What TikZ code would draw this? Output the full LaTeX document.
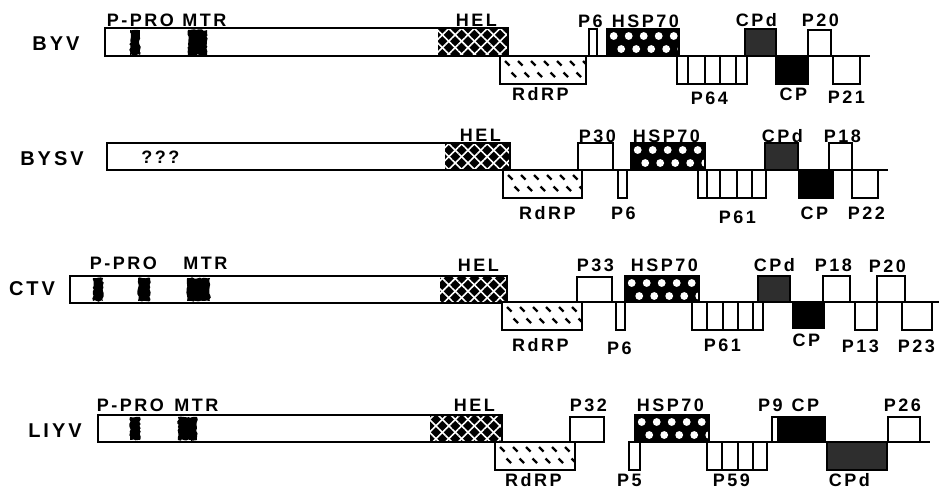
\documentclass[tikz,border=0pt]{standalone}
\usepackage{fontspec}
\setmainfont{Liberation Sans}
\newfontfamily\labfont{Liberation Sans}[LetterSpace=14]
\newfontfamily\rowfont{Liberation Sans}[LetterSpace=15]
\usetikzlibrary{patterns,patterns.meta,decorations.pathmorphing}

\tikzset{
 boxline/.style={draw=black, line width=1.3pt},
 divline/.style={draw=black, line width=1pt},
 gline/.style={draw=black, line width=1.3pt},
 plain/.style={fill=white},
 helfill/.style={preaction={fill=black}, pattern={Lines[angle=45,distance=6.8pt,line width=1.2pt]}, pattern color=white,
   postaction={pattern={Lines[angle=-45,distance=6.8pt,line width=1.2pt]}, pattern color=white}},
 dashmark/.style={draw=black, line width=1.7pt},
 dotmark/.style={fill=white},
 cpdfill/.style={fill=black!82},
 cpfill/.style={fill=black},
 spot/.style={fill=black, decorate, decoration={random steps, segment length=1.5pt, amplitude=0.6pt}},
 lab/.style={font=\labfont\bfseries\fontsize{13.5}{15}\selectfont, inner sep=0pt, text height=9.7pt, text depth=0pt, xshift=-1.2pt},
 rowlab/.style={font=\rowfont\bfseries\fontsize{15}{17}\selectfont, inner sep=0pt, text height=10.7pt, text depth=0pt, xshift=-1.5pt},
}
\newcommand\gbox[5]{\path[#5] (#1,#2) rectangle (#3,#4); \draw[boxline] (#1,#2) rectangle (#3,#4);}
\newcommand\hspbox[4]{%
 \fill[black] (#1,#2) rectangle (#3,#4);
 \begin{scope}
 \clip (#1,#2) rectangle (#3,#4);
 \foreach \i in {0,...,5} {
   \fill[dotmark] ({#1+6.7+15*\i},{#2+7}) circle [radius=3.9];
   \fill[dotmark] ({#1+14.2+15*\i},{#2+20}) circle [radius=3.9];
 }
 \end{scope}
 \draw[boxline] (#1,#2) rectangle (#3,#4);}
\newcommand\rdrpbox[4]{%
 \fill[white] (#1,#2) rectangle (#3,#4);
 \begin{scope}
 \clip (#1,#2) rectangle (#3,#4);
 \foreach \i in {0,...,6} {
   \draw[dashmark] ({#1+5+13*\i},{#2+5}) -- ++(4.5,4.5);
   \draw[dashmark] ({#1+11.5+13*\i},{#2+16.5}) -- ++(4.5,4.5);
 }
 \end{scope}
 \draw[boxline] (#1,#2) rectangle (#3,#4);}

\begin{document}
\begin{tikzpicture}[x=0.75pt,y=-0.75pt]
\useasboundingbox[fill=white] (0,0) rectangle (939,490);

% ---------------- BYV ----------------
\draw[gline] (508,56) -- (870,56);
\path[plain] (105,28) rectangle (508,56);
\path[spot] (130,30) rectangle (140,55);
\path[spot] (188,30) rectangle (207,55);
\path[helfill] (438,28) rectangle (508,56);
\draw[boxline] (105,28) rectangle (508,56);
\rdrpbox{500}{56}{586}{84}
\gbox{589}{29}{597}{56}{plain}
\hspbox{607}{29}{679}{56}
\gbox{677}{56}{747}{84}{plain}
\foreach \d in {688,705,720,736} \draw[divline] (\d,56) -- (\d,84);
\gbox{745}{29}{776}{56}{cpdfill}
\gbox{776}{56}{808}{84}{cpfill}
\gbox{808}{30}{831}{56}{plain}
\gbox{833}{56}{860}{84}{plain}
\node[rowlab] (byv) at (58,43) {BYV};
\node[lab] (byvppro) at (142,20) {P-PRO};
\node[lab] (byvmtr) at (206,20) {MTR};
\node[lab] (byvhel) at (478,20) {HEL};
\node[lab] (byvp6) at (592,21) {P6};
\node[lab] (byvhsp) at (647,21) {HSP70};
\node[lab] (byvcpd) at (758,20) {CPd};
\node[lab] (byvp20) at (822,20) {P20};
\node[lab] (byvrdrp) at (542,94) {RdRP};
\node[lab] (byvp64) at (711,98) {P64};
\node[lab] (byvcp) at (795,94) {CP};
\node[lab] (byvp21) at (848,97) {P21};

% ---------------- BYSV ----------------
\draw[gline] (510,170) -- (888,170);
\path[plain] (107,143) rectangle (510,170);
\path[helfill] (445,143) rectangle (510,170);
\draw[boxline] (107,143) rectangle (510,170);
\rdrpbox{503}{170}{582}{198}
\gbox{578}{143}{613}{170}{plain}
\gbox{618}{170}{627}{198}{plain}
\hspbox{631}{143}{705}{170}
\gbox{698}{170}{766}{198}{plain}
\foreach \d in {707,720,737,752} \draw[divline] (\d,170) -- (\d,198);
\gbox{765}{143}{798}{170}{cpdfill}
\gbox{799}{170}{833}{198}{cpfill}
\gbox{829}{143}{852}{170}{plain}
\gbox{852}{170}{878}{198}{plain}
\node[rowlab] (bysv) at (54,158) {BYSV};
\node[lab] (bysvq) at (162,157) {???};
\node[lab] (bysvhel) at (482,135) {HEL};
\node[lab] (bysvp30) at (599,136) {P30};
\node[lab] (bysvhsp) at (668,136) {HSP70};
\node[lab] (bysvcpd) at (784,136) {CPd};
\node[lab] (bysvp18) at (844,136) {P18};
\node[lab] (bysvrdrp) at (549,213) {RdRP};
\node[lab] (bysvp6) at (625,213) {P6};
\node[lab] (bysvp61) at (739,217) {P61};
\node[lab] (bysvcp) at (816,213) {CP};
\node[lab] (bysvp22) at (868,213) {P22};

% ---------------- CTV ----------------
\draw[gline] (507,302) -- (939,302);
\path[plain] (70,276) rectangle (507,303);
\path[spot] (93,278) rectangle (103,301);
\path[spot] (138,278) rectangle (150,301);
\path[spot] (187,278) rectangle (210,301);
\path[helfill] (440,276) rectangle (507,303);
\draw[boxline] (70,276) rectangle (507,303);
\rdrpbox{502}{302}{582}{330}
\gbox{577}{277}{612}{302}{plain}
\gbox{616}{302}{625}{330}{plain}
\hspbox{625}{276}{699}{302}
\gbox{692}{302}{763}{330}{plain}
\foreach \d in {707,723,738,753} \draw[divline] (\d,302) -- (\d,330);
\gbox{758}{276}{790}{302}{cpdfill}
\gbox{793}{302}{824}{328}{cpfill}
\gbox{823}{276}{850}{302}{plain}
\gbox{855}{302}{877}{330}{plain}
\gbox{877}{276}{905}{302}{plain}
\gbox{902}{302}{932}{330}{plain}
\node[rowlab] (ctv) at (34,288) {CTV};
\node[lab] (ctvppro) at (125,263) {P-PRO};
\node[lab] (ctvmtr) at (207,263) {MTR};
\node[lab] (ctvhel) at (480,265) {HEL};
\node[lab] (ctvp33) at (597,265) {P33};
\node[lab] (ctvhsp) at (666,265) {HSP70};
\node[lab] (ctvcpd) at (776,265) {CPd};
\node[lab] (ctvp18) at (835,265) {P18};
\node[lab] (ctvp20) at (889,266) {P20};
\node[lab] (ctvrdrp) at (542,345) {RdRP};
\node[lab] (ctvp6) at (621,348) {P6};
\node[lab] (ctvp61) at (724,345) {P61};
\node[lab] (ctvcp) at (808,340) {CP};
\node[lab] (ctvp13) at (862,346) {P13};
\node[lab] (ctvp23) at (918,346) {P23};

% ---------------- LIYV ----------------
\draw[gline] (502,442) -- (604,442);
\draw[gline] (630,442) -- (930,442);
\path[plain] (98,415) rectangle (502,442);
\path[spot] (130,417) rectangle (140,440);
\path[spot] (178,417) rectangle (197,440);
\path[helfill] (430,415) rectangle (502,442);
\draw[boxline] (98,415) rectangle (502,442);
\rdrpbox{495}{442}{575}{470}
\gbox{570}{417}{604}{442}{plain}
\gbox{629}{442}{640}{470}{plain}
\hspbox{635}{415}{709}{442}
\gbox{707}{442}{767}{470}{plain}
\foreach \d in {722,738,753} \draw[divline] (\d,442) -- (\d,470);
\gbox{772}{417}{778}{442}{plain}
\gbox{778}{417}{825}{442}{cpfill}
\gbox{827}{442}{887}{470}{cpdfill}
\gbox{888}{417}{920}{442}{plain}
\node[rowlab] (liyv) at (57,430) {LIYV};
\node[lab] (liyvppro) at (132,405) {P-PRO};
\node[lab] (liyvmtr) at (198,405) {MTR};
\node[lab] (liyvhel) at (476,405) {HEL};
\node[lab] (liyvp32) at (590,405) {P32};
\node[lab] (liyvhsp) at (672,405) {HSP70};
\node[lab] (liyvp9) at (772,405) {P9};
\node[lab] (liyvcp) at (807,405) {CP};
\node[lab] (liyvp26) at (904,405) {P26};
\node[lab] (liyvrdrp) at (535,480) {RdRP};
\node[lab] (liyvp5) at (631,480) {P5};
\node[lab] (liyvp59) at (733,480) {P59};
\node[lab] (liyvcpd) at (851,480) {CPd};
\end{tikzpicture}
\end{document}
